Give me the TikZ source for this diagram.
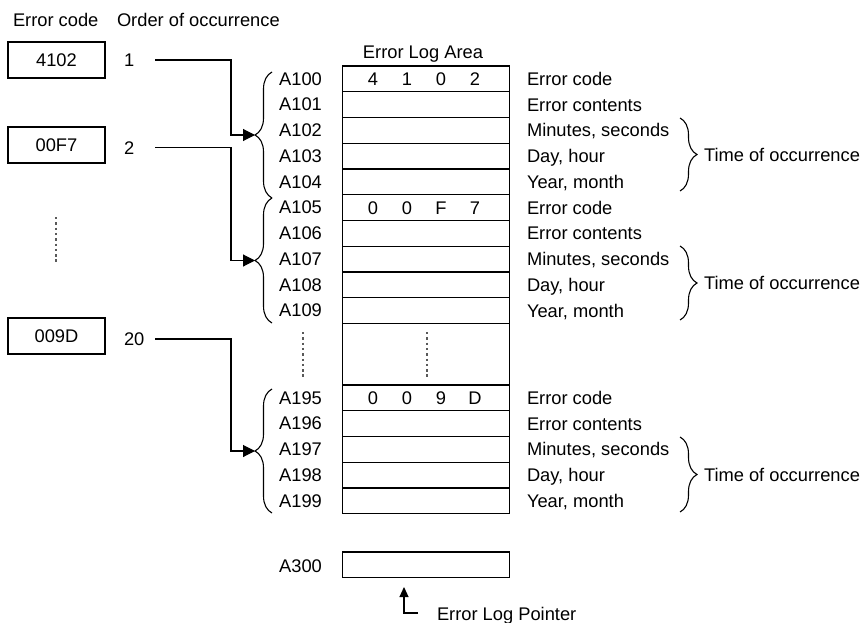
\documentclass[tikz,border=0pt]{standalone}
\usepackage{fontspec}
\setmainfont{Liberation Sans}
\usetikzlibrary{arrows.meta,decorations.pathreplacing,calc}
\tikzset{
  txt/.style={inner sep=0pt, outer sep=0pt, text height=13.1pt, text depth=0pt},
  rowbox/.style={draw, line width=1.1pt, minimum width=167pt, minimum height=25.75pt, inner sep=0pt, outer sep=0pt, anchor=north west},
  codebox/.style={draw, line width=1.1pt, minimum width=97pt, minimum height=36pt, inner sep=0pt, text height=13.1pt, text depth=0pt},
  addr/.style={txt},
  lab/.style={txt, anchor=west},
  conn/.style={line width=1.1pt, -{Triangle[length=12pt,width=12pt]}},
  ptrarrow/.style={line width=1.1pt, -{Triangle[length=10pt,width=9pt]}},
  brc/.style={line width=1.1pt, decorate, decoration={brace, amplitude=17pt}},
  dots/.style={line width=1.6pt, black!65, dash pattern=on 2.4pt off 2.9pt},
}
\begin{document}
\begin{tikzpicture}[x=1pt, y=-1pt, font=\fontsize{18.3}{22}\selectfont, line join=miter]
\useasboundingbox (0,0) rectangle (861,623);

% headers
\node[lab] (hcode) at (13,19.5) {Error code};
\node[lab] (horder) at (117,19.5) {Order of occurrence};
\node[txt] (harea) at (423,51.5) {Error Log Area};

% left code boxes and order numbers
\node[codebox] (c1) at (56.5,60) {4102};
\node[codebox] (c2) at (56.5,145) {00F7};
\node[codebox] (c3) at (56.5,336) {009D};
\node[lab] (n1) at (124,60) {1};
\node[lab] (n2) at (124,147.5) {2};
\node[lab] (n3) at (124,339) {20};
\draw[dots] (56,217) -- (56,263);

% table rows A100..A109
\foreach \i/\lbl in {0/Error code,1/Error contents,2/{Minutes, seconds},3/{Day, hour},4/{Year, month},5/Error code,6/Error contents,7/{Minutes, seconds},8/{Day, hour},9/{Year, month}} {
  \node[rowbox] (r10\i) at (342.5,{66+25.75*\i}) {};
  \node[addr] (a10\i) at (300.5,{78.6+25.75*\i}) {A10\i};
  \node[lab] (l10\i) at (527,{78.9+25.75*\i}) {\lbl};
}
% table rows A195..A199
\foreach \i/\n/\lbl in {0/195/Error code,1/196/Error contents,2/197/{Minutes, seconds},3/198/{Day, hour},4/199/{Year, month}} {
  \node[rowbox] (r\n) at (342.5,{385+25.75*\i}) {};
  \node[addr] (a\n) at (300.5,{397.6+25.75*\i}) {A\n};
  \node[lab] (l\n) at (527,{397.9+25.75*\i}) {\lbl};
}
% sides of the table through the gap
\draw[line width=1.1pt] (r109.south west) -- (r195.north west);
\draw[line width=1.1pt] (r109.south east) -- (r195.north east);
\draw[dots] (303,332) -- (303,377);
\draw[dots] (427,332) -- (427,377);

% digits
\foreach \d/\x [count=\k] in {4/373,1/407,0/441,2/475} \node[txt] (da\k) at (\x,78.9) {\d};
\foreach \d/\x [count=\k] in {0/373,0/407,F/441,7/475} \node[txt] (db\k) at (\x,207.6) {\d};
\foreach \d/\x [count=\k] in {0/373,0/407,9/441,D/475} \node[txt] (dc\k) at (\x,397.9) {\d};

% left braces
\draw[brc] (272,198) -- (272,72);
\draw[brc] (272,323) -- (272,198);
\draw[brc] (272,513) -- (272,389);
\coordinate (t1) at (255,135);
\coordinate (t2) at (255,260.5);
\coordinate (t3) at (255,451);

% connectors
\coordinate (s1) at (155,60);
\coordinate (s2) at (155,147.5);
\coordinate (s3) at (155,339);
\coordinate (k1) at (231,135);
\coordinate (k2) at (231,260.5);
\coordinate (k3) at (231,451);
\draw[conn] (s1) -| (k1) -- (t1);
\draw[conn] (s2) -| (k2) -- (t2);
\draw[conn] (s3) -| (k3) -- (t3);

% right braces
\draw[brc] (680,118) -- (680,191);
\draw[brc] (680,246) -- (680,320);
\draw[brc] (680,437) -- (680,512);
\node[lab] (tm1) at (704,154.5) {Time of occurrence};
\node[lab] (tm2) at (704,283) {Time of occurrence};
\node[lab] (tm3) at (704,474.5) {Time of occurrence};

% A300
\node[rowbox] (r300) at (342.5,552) {};
\node[addr] (a300) at (300.5,565.5) {A300};

% pointer
\node[lab] (ptr) at (437,614) {Error Log Pointer};
\coordinate (pe) at (418,613);
\coordinate (pt) at (404,587);
\draw[ptrarrow] (pe) -| (pt);
\end{tikzpicture}
\end{document}
